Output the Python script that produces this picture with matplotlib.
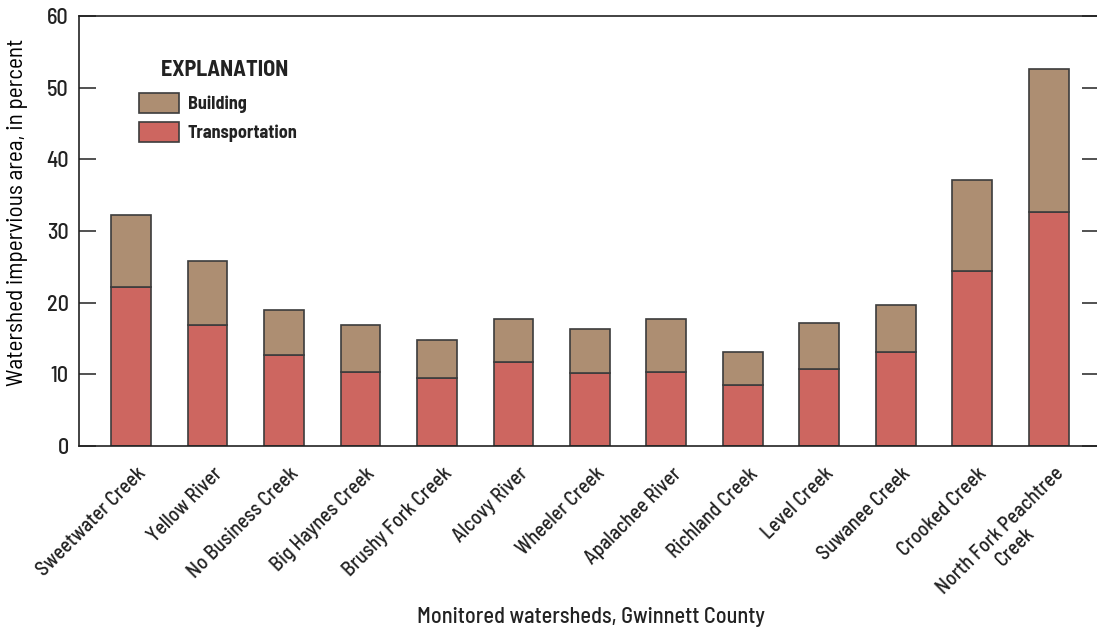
import matplotlib
matplotlib.use("Agg")
import matplotlib.pyplot as plt
import matplotlib.transforms as mtransforms
import numpy as np

watersheds = [
    "Sweetwater Creek", "Yellow River", "No Business Creek", "Big Haynes Creek",
    "Brushy Fork Creek", "Alcovy River", "Wheeler Creek", "Apalachee River",
    "Richland Creek", "Level Creek", "Suwanee Creek", "Crooked Creek",
    "North Fork Peachtree\nCreek",
]
transportation = [22.2, 16.9, 12.7, 10.3, 9.5, 11.7, 10.2, 10.3, 8.5, 10.7, 13.1, 24.4, 32.6]
total = [32.2, 25.8, 19.0, 16.9, 14.8, 17.7, 16.3, 17.7, 13.1, 17.2, 19.7, 37.1, 52.6]
building = [t - tr for t, tr in zip(total, transportation)]

plt.rcParams["font.family"] = ["Barlow Semi Condensed", "Liberation Sans", "DejaVu Sans"]
plt.rcParams["font.weight"] = 500
plt.rcParams["text.color"] = "#222222"

fig = plt.figure(figsize=(10.97, 6.28), dpi=100)
ax = fig.add_axes([79 / 1097, 1 - 446 / 628, 1.002 - 79 / 1097, (446 - 16) / 628])

x = np.arange(len(watersheds))
edge = "#3c3c3c"
b_tr = ax.bar(x, transportation, width=0.52, color="#cd6660", edgecolor=edge, linewidth=1.2,
              label="Transportation")
b_bu = ax.bar(x, building, width=0.52, bottom=transportation, color="#ad8e72", edgecolor=edge,
              linewidth=1.2, label="Building")

ax.set_xlim(-0.68, 12.66)
ax.set_ylim(0, 60)
ax.set_yticks(np.arange(0, 61, 10))
ax.tick_params(axis="y", direction="in", length=12, width=1.2, color="#333333",
               labelsize=16, labelcolor="#222222", right=True, pad=7.5)
ax.tick_params(axis="x", length=0, labelsize=14.5, labelcolor="#222222", pad=13)
ax.set_xticks(x)
ax.set_xticklabels(watersheds, rotation=45, ha="right", rotation_mode="anchor",
                   multialignment="center")
shift = mtransforms.ScaledTranslation(5 / 100, 0, fig.dpi_scale_trans)
for lbl in ax.get_xticklabels():
    lbl.set_transform(lbl.get_transform() + shift)
for s in ["left", "bottom", "top"]:
    ax.spines[s].set_linewidth(1.2)
    ax.spines[s].set_color("#222222")
ax.spines["right"].set_visible(False)

ax.set_ylabel("Watershed impervious area, in percent", fontsize=16.7)
ax.yaxis.set_label_coords(-0.05, 0.544)
fig.text(591 / 1097, 1 - 617 / 628, "Monitored watersheds, Gwinnett County",
         ha="center", va="center", fontsize=16)

leg = ax.legend(handles=[b_bu, b_tr], labels=["Building", "Transportation"],
                title="EXPLANATION  ", loc="upper left", bbox_to_anchor=(0.043, 0.935),
                frameon=False, handlelength=2.2, handleheight=1.35, handletextpad=0.5,
                labelspacing=0.5, prop={"weight": "bold", "size": 13},
                title_fontproperties={"weight": "bold", "size": 16})
leg._legend_box.align = "right"
leg._legend_box.sep = 9

fig.savefig("out.png", dpi=100)
